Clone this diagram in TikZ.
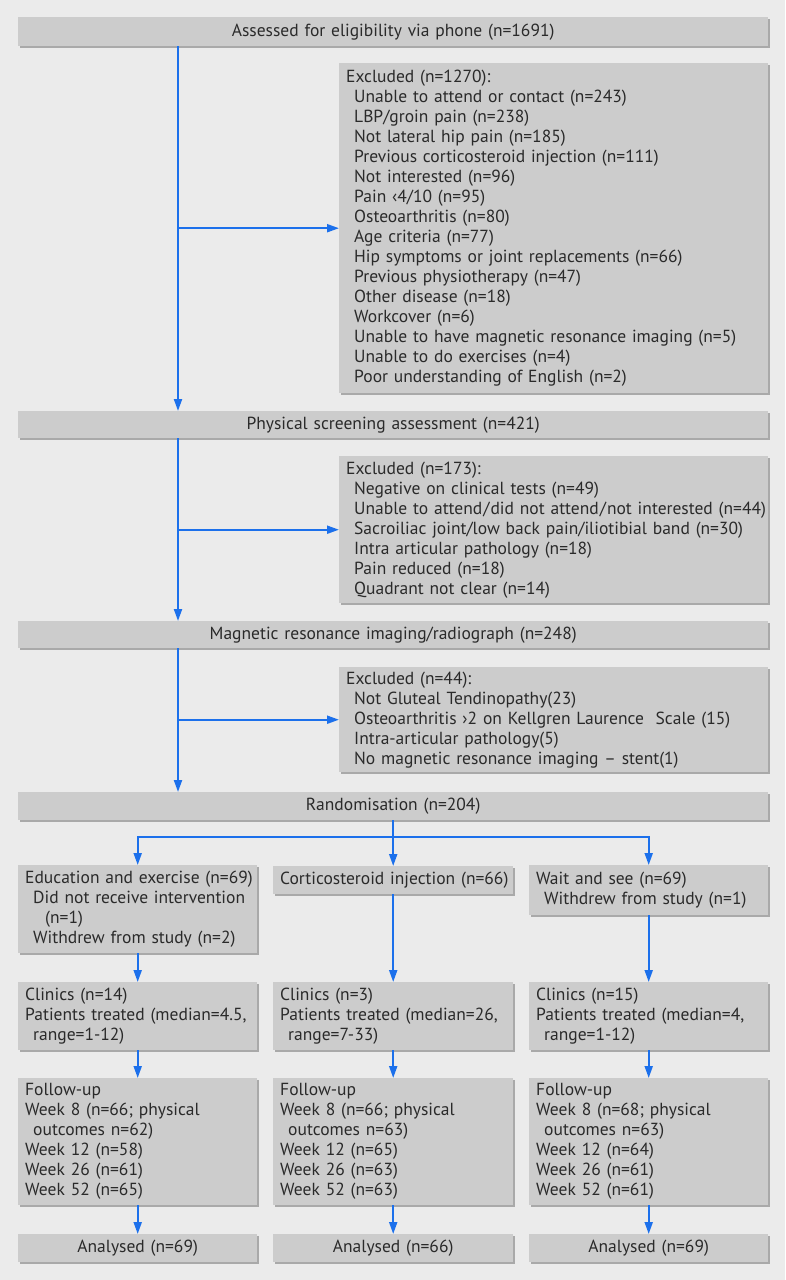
\documentclass[tikz,border=0pt]{standalone}
\usepackage{fontspec}
\setmainfont{PT Sans}
\usetikzlibrary{shadows,arrows.meta}
\definecolor{bg}{HTML}{EBEBEB}
\definecolor{boxc}{HTML}{CCCCCC}
\definecolor{shc}{HTML}{A9A9A9}
\definecolor{txt}{HTML}{2A2A2A}
\definecolor{arrc}{RGB}{28,112,235}
\newcommand{\ind}{\hspace*{8pt}}
\newcommand{\li}[1]{\mbox{#1}}
\newcommand{\wsl}{\kern1pt/\kern1pt}
\begin{document}
\begin{tikzpicture}[x=1pt,y=-1pt,
 box/.style={fill=boxc, drop shadow={shadow xshift=2pt,shadow yshift=-2pt,fill=shc,opacity=1},
   inner xsep=7pt, inner ysep=0pt, text=txt, anchor=north west, align=left,
   font=\fontsize{17.5}{20}\selectfont},
 cbox/.style={box, align=center},
 arr/.style={draw=arrc, line width=2pt, -{Triangle[length=12pt,width=8pt]}},
 ln/.style={draw=arrc, line width=2pt}]
\fill[bg] (0,0) rectangle (785,1280);
\useasboundingbox (0,0) rectangle (785,1280);

\node[cbox, text width=736pt, minimum height=29pt] (a1) at (18,17) {Assessed for eligibility via phone (n=1691)};
\node[box, text width=415pt, minimum height=330pt] (ex1) at (339,63) {Excluded (n=1270):\\
\ind Unable to attend or contact (n=243)\\
\ind LBP/groin pain (n=238)\\
\ind Not lateral hip pain (n=185)\\
\ind Previous corticosteroid injection (n=111)\\
\ind Not interested (n=96)\\
\ind Pain ‹4/10 (n=95)\\
\ind Osteoarthritis (n=80)\\
\ind Age criteria (n=77)\\
\ind Hip symptoms or joint replacements (n=66)\\
\ind Previous physiotherapy (n=47)\\
\ind Other disease (n=18)\\
\ind Workcover (n=6)\\
\ind \li{Unable to have magnetic resonance imaging (n=5)}\\
\ind Unable to do exercises (n=4)\\
\ind Poor understanding of English (n=2)};
\node[cbox, text width=736pt, minimum height=27pt] (a2) at (18,411) {Physical screening assessment (n=421)};
\node[box, text width=415pt, minimum height=147pt] (ex2) at (339,456) {Excluded (n=173):\\
\ind Negative on clinical tests (n=49)\\
\ind \li{Unable to attend\wsl did not attend\wsl not interested (n=44)}\\
\ind \li{Sacroiliac joint/low back pain/iliotibial band (n=30)}\\
\ind Intra articular pathology (n=18)\\
\ind Pain reduced (n=18)\\
\ind Quadrant not clear (n=14)};
\node[cbox, text width=736pt, minimum height=27pt] (a3) at (18,621) {Magnetic resonance imaging/radiograph (n=248)};
\node[box, text width=415pt, minimum height=105pt] (ex3) at (339,667) {Excluded (n=44):\\
\ind Not Gluteal Tendinopathy(23)\\
\ind \li{Osteoarthritis ›2 on Kellgren Laurence\ \ Scale (15)}\\
\ind Intra-articular pathology(5)\\
\ind \li{No magnetic resonance imaging – stent(1)}};
\node[cbox, text width=736pt, minimum height=28pt] (a4) at (18,792) {Randomisation (n=204)};

\node[box, text width=225pt, minimum height=88pt] (b1) at (18,865) {\li{Education and exercise (n=69)}\\
\ind Did not receive intervention\\
\hspace*{20pt}(n=1)\\
\ind Withdrew from study (n=2)};
\node[box, text width=226pt, minimum height=28pt] (b2) at (273,866) {\li{Corticosteroid injection (n=66)}};
\node[box, text width=225pt, minimum height=50pt] (b3) at (529,865) {Wait and see (n=69)\\
\ind Withdrew from study (n=1)};

\node[box, text width=225pt, minimum height=68pt] (c1) at (18,982) {Clinics (n=14)\\
\li{Patients treated (median=4.5,}\\
\ind range=1-12)};
\node[box, text width=226pt, minimum height=68pt] (c2) at (273,982) {Clinics (n=3)\\
\li{Patients treated (median=26,}\\
\ind range=7-33)};
\node[box, text width=225pt, minimum height=68pt] (c3) at (529,982) {Clinics (n=15)\\
\li{Patients treated (median=4,}\\
\ind range=1-12)};

\node[box, text width=225pt, minimum height=127pt] (d1) at (18,1078) {Follow-up\\
Week 8 (n=66; physical\\
\ind outcomes n=62)\\
Week 12 (n=58)\\
Week 26 (n=61)\\
Week 52 (n=65)};
\node[box, text width=226pt, minimum height=127pt] (d2) at (273,1078) {Follow-up\\
Week 8 (n=66; physical\\
\ind outcomes n=63)\\
Week 12 (n=65)\\
Week 26 (n=63)\\
Week 52 (n=63)};
\node[box, text width=225pt, minimum height=127pt] (d3) at (529,1078) {Follow-up\\
Week 8 (n=68; physical\\
\ind outcomes n=63)\\
Week 12 (n=64)\\
Week 26 (n=61)\\
Week 52 (n=61)};

\node[cbox, text width=225pt, minimum height=28pt] (e1) at (18,1234) {Analysed (n=69)};
\node[cbox, text width=226pt, minimum height=28pt] (e2) at (273,1234) {Analysed (n=66)};
\node[cbox, text width=225pt, minimum height=28pt] (e3) at (529,1234) {Analysed (n=69)};

\coordinate (sx) at (178,0);
\coordinate (jn) at (393,837);
\draw[arr] (a1.south -| sx) -- (a2.north -| sx);
\draw[arr] (a2.south -| sx) -- (a3.north -| sx);
\draw[arr] (a3.south -| sx) -- (a4.north -| sx);
\draw[arr] (ex1.west -| sx) -- (ex1.west);
\draw[arr] (ex2.west -| sx) -- (ex2.west);
\draw[arr] (ex3.west -| sx) -- (ex3.west);
\draw[arr] (a4.south -| b2.north) -- (b2.north);
\draw[arr] (jn) -| (b1.north);
\draw[arr] (jn) -| (b3.north);
\draw[arr] (b1) -- (c1);
\draw[arr] (b2) -- (c2);
\draw[arr] (b3) -- (c3);
\draw[arr] (c1) -- (d1);
\draw[arr] (c2) -- (d2);
\draw[arr] (c3) -- (d3);
\draw[arr] (d1) -- (e1);
\draw[arr] (d2) -- (e2);
\draw[arr] (d3) -- (e3);
\end{tikzpicture}
\end{document}
